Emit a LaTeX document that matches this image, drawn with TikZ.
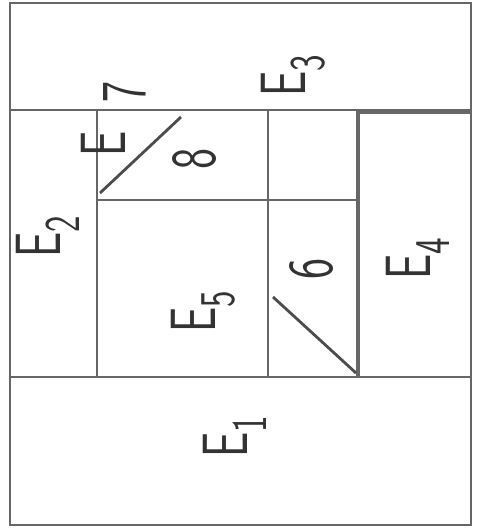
\documentclass[tikz,border=0pt]{standalone}
\begin{document}
\begin{tikzpicture}[x=1pt,y=-1pt,
  wall/.style={draw=black!60, line width=2.6pt},
  diag/.style={draw=black!70, line width=2.8pt},
  lab/.style={rotate=90, anchor=base west, inner sep=0pt, text=black!80,
    font=\sffamily\fontsize{64}{64}\selectfont}]
\newcommand{\Esub}[1]{\scalebox{0.7}[1]{E\raisebox{-0.3em}{\fontsize{50}{50}\selectfont #1}}}
\newcommand{\Dig}[1]{\scalebox{0.7}[1]{#1}}
\useasboundingbox (0,0) rectangle (480,529);
% walls
\draw[wall] (10,3) rectangle (471,525);
\draw[wall] (10,110) -- (471,110);
\draw[wall] (10,377) -- (471,377);
\draw[wall] (97,110) -- (97,377);
\draw[wall] (268,110) -- (268,377);
\draw[wall] (97,200) -- (358,200);
\draw[wall, line width=3.4pt] (358,111) -- (358,377);
\draw[wall, line width=3.4pt] (358,112) -- (471,112);
% diagonals
\coordinate (d1a) at (100,193);
\coordinate (d1b) at (181,117);
\coordinate (d2a) at (273,297);
\coordinate (d2b) at (356,373);
\draw[diag] (d1a) -- (d1b);
\draw[diag] (d2a) -- (d2b);
% labels
\node[lab] (top) at (305,97) {\Esub{3}};
\node[lab] (seven) at (145,103) {\Dig{7}};
\node[lab] (smallE) at (125,157) {\Dig{E}};
\node[lab] (left) at (60,258) {\Esub{2}};
\node[lab] (eight) at (215,170) {\Dig{8}};
\node[lab] (center) at (215,333) {\Esub{5}};
\node[lab] (six) at (332,280) {\Dig{6}};
\node[lab] (right) at (430,280) {\Esub{4}};
\node[lab] (bottom) at (247,458) {\Esub{1}};
\end{tikzpicture}
\end{document}
